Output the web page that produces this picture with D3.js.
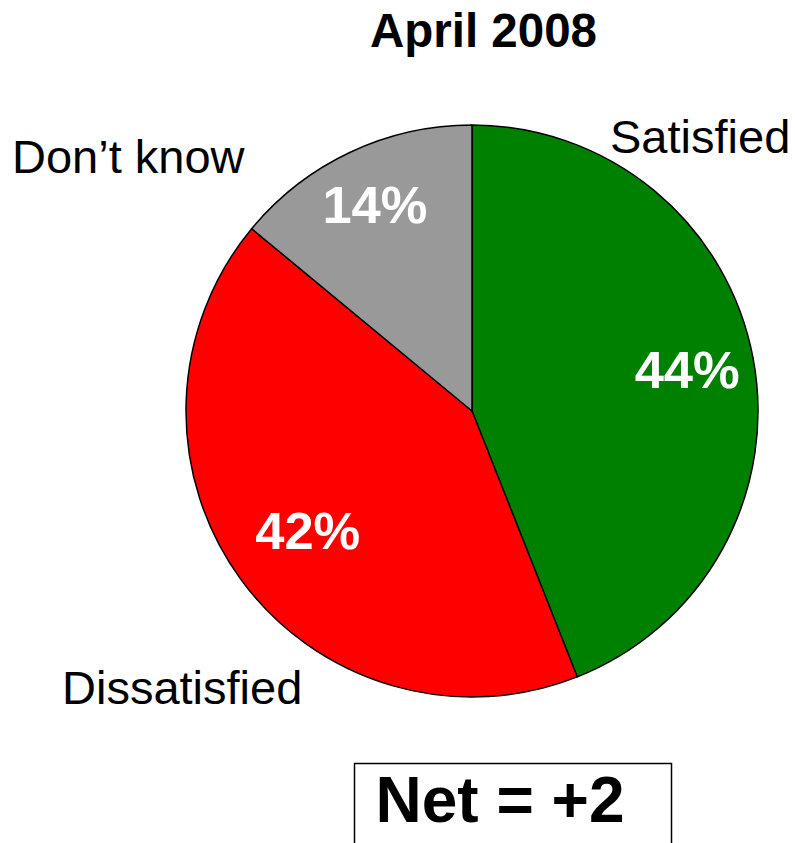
<!DOCTYPE html>
<html>
<head>
<meta charset="utf-8">
<script src="https://cdn.jsdelivr.net/npm/d3@7"></script>
<style>
  html, body { margin: 0; padding: 0; background: #fff; }
  svg { display: block; font-family: "Liberation Sans", Arial, Helvetica, sans-serif; }
</style>
</head>
<body>
<svg id="chart" width="795" height="843"></svg>
<script>
// ---- data ----
const title = "April 2008";
const categories = ["Satisfied", "Dissatisfied", "Don\u2019t know"];
const values = [44, 42, 14];
const colors = ["#008000", "#ff0000", "#999999"];
const netText = "Net = +2";

// ---- layout ----
const W = 795, H = 843;
const cx = 472, cy = 411, R = 286;
const labelRadius = [0.766, 0.71, 0.797];
const outerLabels = [
  { x: 610, y: 153 },   // Satisfied
  { x: 62,  y: 704 },   // Dissatisfied
  { x: 12,  y: 173 }    // Don't know
];

const svg = d3.select("#chart");

svg.append("text")
  .attr("x", 483.5).attr("y", 47)
  .attr("text-anchor", "middle")
  .attr("font-weight", "bold")
  .attr("font-size", 47.5)
  .attr("fill", "#000")
  .text(title);

const data = categories.map((c, i) => ({ cat: c, value: values[i], color: colors[i], i }));

const pie = d3.pie().value(d => d.value).sort(null);
const arcs = pie(data);
const arc = d3.arc().innerRadius(0).outerRadius(R);

const g = svg.append("g").attr("transform", `translate(${cx},${cy})`);

g.selectAll("path.slice")
  .data(arcs)
  .join("path")
  .attr("class", "slice")
  .attr("d", arc)
  .attr("fill", d => d.data.color)
  .attr("stroke", "#000")
  .attr("stroke-width", 1.5)
  .attr("stroke-linejoin", "round");

g.selectAll("text.pct")
  .data(arcs)
  .join("text")
  .attr("class", "pct")
  .each(function(d) {
    const r = R * labelRadius[d.data.i];
    const a = (d.startAngle + d.endAngle) / 2;
    const x = Math.sin(a) * r;
    const y = -Math.cos(a) * r;
    d3.select(this).attr("x", x).attr("y", y + 18.5);
  })
  .attr("text-anchor", "middle")
  .attr("font-weight", "bold")
  .attr("font-size", 52.5)
  .attr("fill", "#fff")
  .text(d => d.data.value + "%");

svg.selectAll("text.cat")
  .data(data)
  .join("text")
  .attr("class", "cat")
  .attr("x", d => outerLabels[d.i].x)
  .attr("y", d => outerLabels[d.i].y)
  .attr("font-size", 47)
  .attr("fill", "#000")
  .text(d => d.cat);

svg.append("rect")
  .attr("x", 354.5).attr("y", 763.5)
  .attr("width", 317).attr("height", 100)
  .attr("fill", "#fff")
  .attr("stroke", "#000")
  .attr("stroke-width", 1.5);

svg.append("text")
  .attr("x", 500).attr("y", 822)
  .attr("text-anchor", "middle")
  .attr("font-weight", "bold")
  .attr("font-size", 64)
  .attr("fill", "#000")
  .text(netText);
</script>
</body>
</html>
